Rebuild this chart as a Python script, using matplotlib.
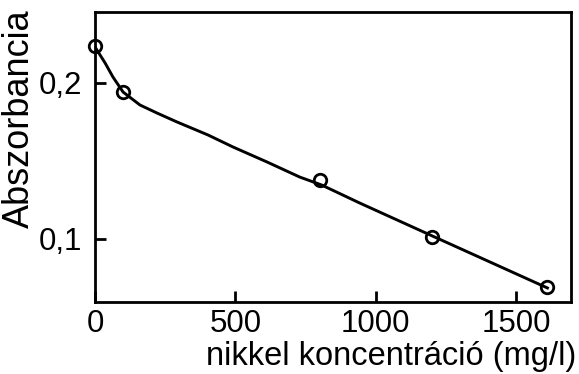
import matplotlib
matplotlib.use("Agg")
import matplotlib.pyplot as plt
from matplotlib.ticker import FuncFormatter

plt.rcParams['font.family'] = ['Liberation Sans', 'DejaVu Sans']

# measured points
conc = [0, 100, 800, 1200, 1610]
absz = [0.224, 0.194, 0.138, 0.101, 0.069]

# fitted curve
curve_x = [0, 36, 64, 100, 160, 220, 292, 402, 491, 612, 729, 807, 942, 1209, 1611]
curve_y = [0.2231, 0.2128, 0.2038, 0.1942, 0.1859, 0.1808, 0.175, 0.1667, 0.159,
           0.1494, 0.1397, 0.1346, 0.1231, 0.1013, 0.0686]

xticks = [0, 500, 1000, 1500]
yticks = [0.1, 0.2]

fig = plt.figure(figsize=(5.79, 3.74), dpi=100)
ax = fig.add_axes([95/579, 1-302/374, 476/579, 290/374])

ax.plot(curve_x, curve_y, color='black', lw=2.1, zorder=2)
ax.plot(conc, absz, 'o', ms=9, mfc='none', mec='black', mew=2, zorder=3, clip_on=False)

ax.set_xlim(0, 1695)
ax.set_ylim(0.0596, 0.2455)
ax.set_xticks(xticks)
ax.set_yticks(yticks)
ax.yaxis.set_major_formatter(FuncFormatter(lambda v, p: ('%.1f' % v).replace('.', ',')))
ax.tick_params(direction='in', length=8, width=2, labelsize=22.5)
ax.tick_params(axis='x', pad=5)
ax.tick_params(axis='y', pad=9)
for s in ax.spines.values():
    s.set_linewidth(2)

fig.text(576/579, 1-365/374, 'nikkel koncentráció (mg/l)', ha='right', va='baseline', fontsize=23.5)
fig.text(19/579, 1-119/374, 'Abszorbancia', rotation=90, ha='center', va='center', fontsize=26)

fig.savefig('out.png', dpi=100)
